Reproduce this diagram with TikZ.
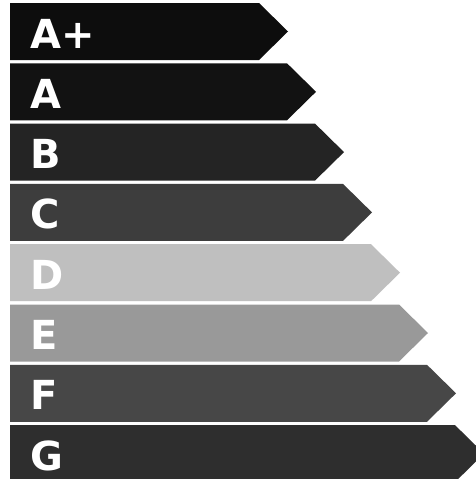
\documentclass[tikz,border=0pt]{standalone}
\usepackage{fontspec}
\setsansfont{DejaVu Sans}
\begin{document}
\begin{tikzpicture}[x=1pt,y=-1pt,
    band/.style={draw=none},
    grade/.style={text=white,anchor=base west,inner sep=0pt,
      font=\sffamily\bfseries\fontsize{40}{40}\selectfont}
  ]
  \useasboundingbox[fill=white] (0,0) rectangle (476,479);
  \clip (0,0) rectangle (476,479);
  % one arrow band per class, longer towards G
  \foreach \lbl/\shade [count=\i from 0] in {A+/95,A/93,B/86,C/76,D/25,E/40,F/72,G/82} {
    \pgfmathsetmacro\top{3+60.3*\i}
    \pgfmathsetmacro\tip{288+28*\i}
    \fill[band,black!\shade] (10,\top) -- (\tip-29,\top) -- (\tip,\top+28.5)
      -- (\tip-29,\top+57) -- (10,\top+57) -- cycle;
    \node[grade] (class\i) at (30,\top+45) {\lbl};
  }
\end{tikzpicture}
\end{document}
